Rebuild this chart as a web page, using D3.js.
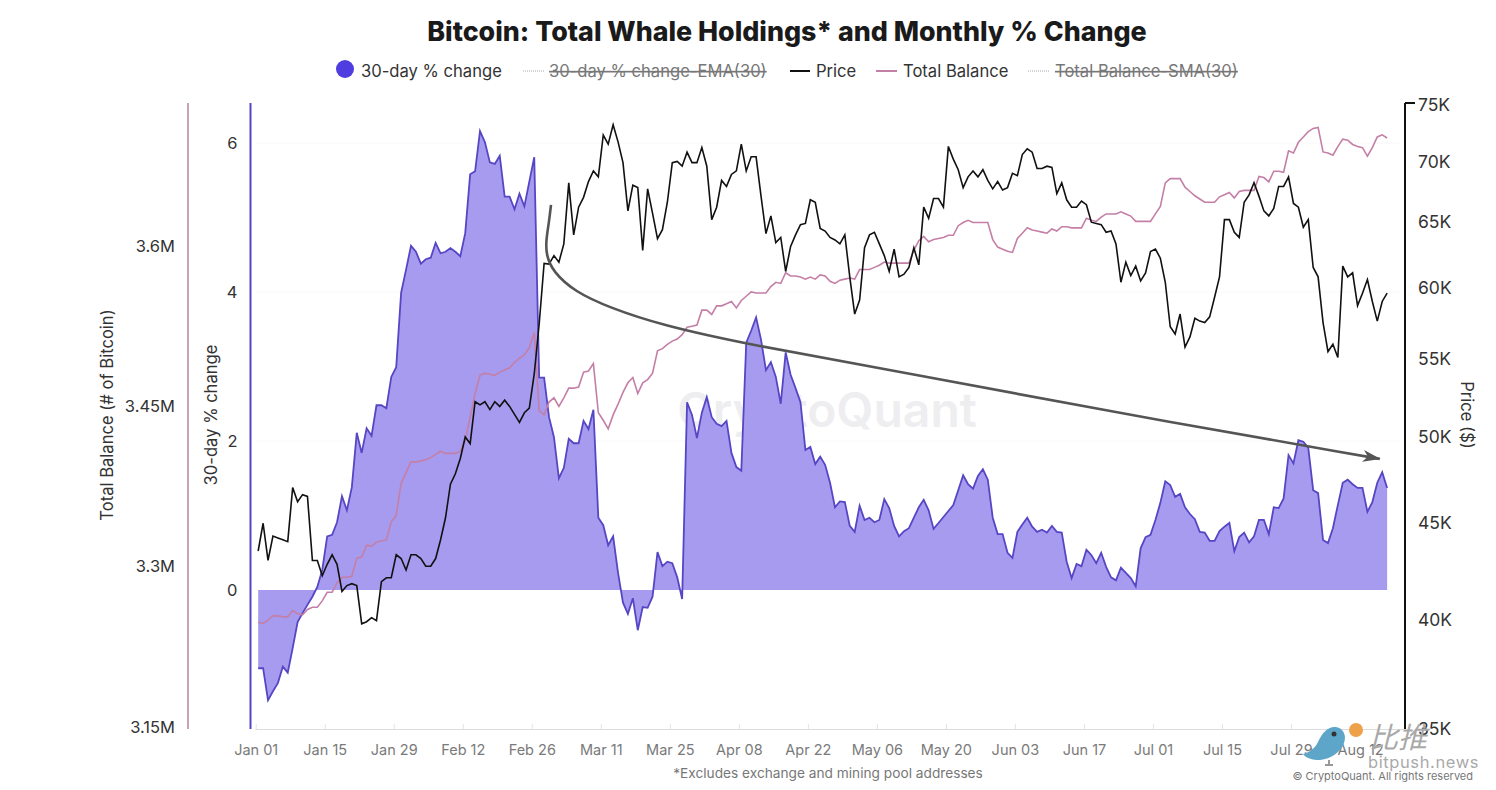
<!DOCTYPE html>
<html>
<head>
<meta charset="utf-8">
<script src="https://cdn.jsdelivr.net/npm/d3@7"></script>
<style>
  html, body { margin: 0; background: #fff; }
  text { font-family: Inter, "Noto Sans", sans-serif; }
  .strike { text-decoration: line-through; }
</style>
</head>
<body>
<div id="chart"></div>
<script>
// daily values, one per day starting Jan 01
const firstDay = new Date(Date.UTC(2024, 0, 1));

const pctChange = [
  -1.05,-1.05,-1.48,-1.36,-1.25,-1.03,-1.11,-0.78,-0.43,-0.31,-0.20,-0.09,0.04,0.27,0.72,0.74,0.91,1.26,1.07,1.38,
  2.11,1.84,2.17,2.07,2.48,2.48,2.44,2.86,2.99,3.99,4.30,4.62,4.54,4.38,4.44,4.46,4.66,4.52,4.54,4.59,
  4.54,4.48,4.79,5.58,5.62,6.16,6.01,5.74,5.72,5.83,5.28,5.28,5.11,5.32,5.15,5.48,5.81,2.85,2.85,2.32,
  2.05,1.50,1.64,2.03,1.97,1.97,2.27,2.16,2.42,0.97,0.87,0.60,0.72,0.23,-0.17,-0.32,-0.11,-0.54,-0.23,-0.24,
  -0.09,0.51,0.32,0.38,0.36,0.17,-0.12,2.52,2.35,2.04,2.38,2.59,2.32,2.23,2.20,2.27,1.84,1.65,1.60,3.32,
  3.48,3.66,3.36,2.95,3.06,2.86,2.50,3.19,2.89,2.71,2.52,1.88,1.92,1.69,1.79,1.68,1.44,1.11,1.19,1.18,
  0.86,0.78,1.13,0.94,0.97,0.91,0.94,1.22,1.10,0.86,0.72,0.79,0.83,0.97,1.11,1.21,1.07,0.82,0.90,0.98,
  1.06,1.14,1.34,1.54,1.42,1.36,1.53,1.62,1.48,0.97,0.75,0.75,0.50,0.43,0.78,0.88,0.97,0.85,0.78,0.81,
  0.77,0.86,0.78,0.77,0.38,0.16,0.35,0.32,0.54,0.47,0.36,0.50,0.31,0.17,0.13,0.30,0.23,0.16,0.05,0.56,
  0.71,0.74,0.94,1.17,1.46,1.41,1.25,1.29,1.11,1.02,0.95,0.78,0.77,0.66,0.66,0.79,0.85,0.90,0.52,0.71,
  0.77,0.64,0.72,0.94,0.94,0.75,1.11,1.10,1.23,1.81,1.70,2.01,1.99,1.91,1.34,1.30,0.67,0.63,0.83,1.14,
  1.44,1.48,1.42,1.37,1.37,1.05,1.18,1.44,1.58,1.37
];

const price = [
  43500,45000,43000,44300,44200,44100,44000,47000,46200,46600,46500,43000,43000,42200,42800,43300,42800,41400,41700,41800,
  41700,39800,39900,40100,39950,41900,42100,42100,43300,43100,42500,43300,43300,43100,42700,42700,43100,44100,45300,47200,
  47800,48700,50000,49600,52200,52000,52200,51700,52200,51900,52300,51900,51400,50900,51500,51800,54000,57400,61800,61750,
  62400,61900,63300,68200,64000,66200,67000,68300,69200,68700,72300,71500,73200,71700,69900,65900,68000,67800,62800,67700,
  65700,63700,64400,66600,69900,70000,69600,70800,69900,69900,71200,69600,65200,66200,68400,67900,68900,69200,71500,69200,
  70400,70400,67100,64100,65500,63400,63800,61200,63100,64000,64800,64900,66800,66600,64500,64300,63800,63600,63300,64000,
  60800,58100,59100,63000,64000,64200,63300,62400,61200,62900,60800,61000,61500,63000,61700,66200,65300,66900,66900,66200,
  71300,70200,69300,67800,68700,69200,68700,69300,68400,67700,68300,67600,67800,69000,68800,70600,71100,70800,69400,69400,
  69600,69500,67300,68200,66800,66200,66200,66700,66400,65000,64900,64800,64200,64300,63300,60400,61900,60900,61600,60500,
  61100,62700,62900,62200,60400,57200,56700,58100,55800,56500,57800,57600,57500,57900,59300,60800,65200,65200,64200,63800,
  66600,67200,68200,67100,65900,65500,66100,67900,67900,68700,66500,66200,64600,65200,61500,60800,57500,55500,56000,55100,
  61600,60800,61100,58700,59600,60600,59000,57600,59000,59600
];

// total balance in millions of BTC
const totalBalance = [
  3.248,3.247,3.250,3.254,3.254,3.253,3.253,3.259,3.256,3.255,3.260,3.262,3.262,3.268,3.276,3.276,3.285,3.290,3.290,3.291,
  3.308,3.309,3.320,3.319,3.323,3.324,3.325,3.342,3.348,3.378,3.388,3.398,3.398,3.399,3.400,3.402,3.405,3.408,3.406,3.406,
  3.406,3.408,3.418,3.440,3.462,3.479,3.481,3.480,3.479,3.482,3.484,3.486,3.491,3.495,3.498,3.505,3.519,3.446,3.442,3.454,
  3.458,3.450,3.458,3.467,3.467,3.468,3.482,3.483,3.490,3.444,3.437,3.429,3.442,3.452,3.463,3.472,3.477,3.462,3.472,3.475,
  3.481,3.502,3.504,3.508,3.511,3.513,3.517,3.524,3.525,3.526,3.540,3.540,3.536,3.544,3.544,3.546,3.548,3.542,3.549,3.553,
  3.557,3.556,3.556,3.556,3.562,3.566,3.565,3.575,3.572,3.572,3.571,3.569,3.571,3.569,3.573,3.572,3.567,3.565,3.568,3.569,
  3.570,3.569,3.578,3.578,3.578,3.580,3.582,3.585,3.584,3.584,3.584,3.584,3.584,3.596,3.605,3.609,3.604,3.606,3.607,3.608,
  3.610,3.610,3.619,3.622,3.624,3.622,3.622,3.622,3.622,3.606,3.599,3.597,3.595,3.594,3.607,3.612,3.617,3.615,3.614,3.613,
  3.612,3.616,3.614,3.618,3.618,3.617,3.617,3.617,3.626,3.624,3.623,3.627,3.630,3.630,3.630,3.632,3.630,3.628,3.623,3.623,
  3.623,3.623,3.630,3.637,3.659,3.663,3.663,3.663,3.655,3.651,3.647,3.644,3.641,3.641,3.641,3.646,3.648,3.650,3.645,3.651,
  3.652,3.652,3.652,3.665,3.664,3.660,3.670,3.670,3.669,3.689,3.687,3.697,3.702,3.707,3.710,3.711,3.688,3.687,3.685,3.693,
  3.700,3.699,3.695,3.693,3.692,3.684,3.692,3.702,3.704,3.701
];

const dayTicks = ["Jan 01","Jan 15","Jan 29","Feb 12","Feb 26","Mar 11","Mar 25","Apr 08","Apr 22","May 06","May 20",
  "Jun 03","Jun 17","Jul 01","Jul 15","Jul 29","Aug 12"];
const pctTicks = [0, 2, 4, 6];
const balanceTicks = [3.15, 3.3, 3.45, 3.6];
const priceTicks = [35000, 40000, 45000, 50000, 55000, 60000, 65000, 70000, 75000];

// hand drawn arrow on the original, as [day, % change]
const trendArrow = [
  [59.4,5.17],[59.0,4.94],[58.4,4.70],[58.4,4.50],[59.8,4.27],[64.3,4.00],[71.3,3.79],
  [81.5,3.56],[99.7,3.29],[130.2,2.93],[170.7,2.42],[227.5,1.76]
];

const width = 1496, height = 790;
const top_ = 103, bottom = 729;

const svg = d3.select("#chart").append("svg")
  .attr("width", width)
  .attr("height", height)
  .style("display", "block");

// each value sits in the middle of its day
const x = d3.scaleUtc()
  .domain([firstDay, d3.utcDay.offset(firstDay, 230)])
  .range([255.7, 1389.6]);
const xDay = d => x(new Date(+firstDay + (d + 0.5) * 864e5));

const yPct = d3.scaleLinear().domain([0, 6]).range([590, 143]);
const yBalance = d3.scaleLinear().domain([3.15, 3.6]).range([727, 246]);
const yPrice = d3.scaleLog().domain([35000, 75000]).range([bottom, 105]);

const purple = "#5546c4", pink = "#c47fa6";

// watermark goes under the marks
svg.append("text")
  .attr("x", 827).attr("y", 427)
  .attr("text-anchor", "middle")
  .attr("font-size", 48).attr("font-weight", 600)
  .attr("fill", "#eeeef0")
  .text("CryptoQuant");

// faint gridlines
svg.append("g")
  .selectAll("line")
  .data(pctTicks.slice(1))
  .join("line")
    .attr("x1", 256).attr("x2", 1400)
    .attr("y1", d => yPct(d)).attr("y2", d => yPct(d))
    .attr("stroke", "#f8f8f8");

// area for the % change
const area = d3.area()
  .x((d, i) => xDay(i))
  .y0(yPct(0))
  .y1(d => yPct(d));
const pctLine = d3.line().x((d, i) => xDay(i)).y(d => yPct(d));

svg.append("path")
  .datum(pctChange)
  .attr("d", area)
  .attr("fill", "#a79bf0");
svg.append("path")
  .datum(pctChange)
  .attr("d", pctLine)
  .attr("fill", "none")
  .attr("stroke", purple)
  .attr("stroke-width", 1.8);

// balance and price lines
svg.append("path")
  .datum(totalBalance)
  .attr("d", d3.line().x((d, i) => xDay(i)).y(d => yBalance(d)))
  .attr("fill", "none")
  .attr("stroke", pink)
  .attr("stroke-width", 1.6);
svg.append("path")
  .datum(price)
  .attr("d", d3.line().x((d, i) => xDay(i)).y(d => yPrice(d)))
  .attr("fill", "none")
  .attr("stroke", "#111")
  .attr("stroke-width", 1.6);

// arrow annotation
svg.append("defs").append("marker")
    .attr("id", "head")
    .attr("viewBox", "0 0 18 12")
    .attr("refX", 17).attr("refY", 6)
    .attr("markerWidth", 18).attr("markerHeight", 12)
    .attr("markerUnits", "userSpaceOnUse")
    .attr("orient", "auto")
  .append("path")
    .attr("d", "M0,0 L18,6 L0,12 L5,6 Z")
    .attr("fill", "#555");
svg.append("path")
  .datum(trendArrow)
  .attr("d", d3.line().x(d => xDay(d[0])).y(d => yPct(d[1])).curve(d3.curveBasis))
  .attr("fill", "none")
  .attr("stroke", "#555")
  .attr("stroke-width", 2.6)
  .attr("marker-end", "url(#head)");

// axes
const tickDate = d3.utcParse("%b %d %Y");
const xAxis = d3.axisBottom(x)
  .tickValues(dayTicks.map(d => tickDate(d + " 2024")))
  .tickFormat(d3.utcFormat("%b %d"))
  .tickSize(-5)
  .tickPadding(16);
const gx = svg.append("g").attr("transform", `translate(0,${bottom})`).call(xAxis);
gx.select(".domain").attr("stroke", "#dcdcdc").attr("d", "M255.5,0.5H1404");
gx.selectAll(".tick line").attr("stroke", "#e4e4e4");
gx.selectAll(".tick text").attr("fill", "#7a7a7a").attr("font-size", 14.5).attr("font-family", null);

const styleY = function(g, color, size) {
  g.select(".domain").attr("d", `M0,${top_}V${bottom}`).attr("stroke", color).attr("stroke-width", 2);
  g.selectAll(".tick line").remove();
  g.selectAll(".tick text").attr("fill", "#333").attr("font-size", size).attr("font-family", null);
};

const gPct = svg.append("g").attr("transform", "translate(250.5,0)")
  .call(d3.axisLeft(yPct).tickValues(pctTicks).tickSize(0).tickPadding(13).tickFormat(d3.format("d")));
const gBal = svg.append("g").attr("transform", "translate(188,0)")
  .call(d3.axisLeft(yBalance).tickValues(balanceTicks).tickSize(0).tickPadding(13)
    .tickFormat(d => d + "M"));
const gPrice = svg.append("g").attr("transform", "translate(1405,0)")
  .call(d3.axisRight(yPrice).tickValues(priceTicks).tickSize(0).tickPadding(13)
    .tickFormat(d => d / 1000 + "K"));
styleY(gPct, purple, 16.5);
styleY(gBal, "#cda2b6", 16.5);
styleY(gPrice, "#111", 17.5);
gPrice.append("line").attr("x1", 0).attr("x2", 10).attr("y1", top_).attr("y2", top_).attr("stroke", "#111").attr("stroke-width", 2);

const axisTitle = (tx, ty, rot, label) => svg.append("text")
  .attr("transform", `translate(${tx},${ty}) rotate(${rot})`)
  .attr("text-anchor", "middle")
  .attr("font-size", 16.6)
  .attr("fill", "#333")
  .text(label);
axisTitle(113, 415, -90, "Total Balance (# of Bitcoin)");
axisTitle(217, 415, -90, "30-day % change");
axisTitle(1461, 415, 90, "Price ($)");

// title
svg.append("text")
  .attr("x", 787).attr("y", 41)
  .attr("text-anchor", "middle")
  .attr("font-size", 26.8).attr("font-weight", 800)
  .attr("fill", "#1a1a1a")
  .text("Bitcoin: Total Whale Holdings* and Monthly % Change");

// legend
const legend = svg.append("g").attr("font-size", 16.6);
legend.append("circle").attr("cx", 345).attr("cy", 69).attr("r", 9).attr("fill", "#4f3de0");
const legendText = (tx, label, strike) => legend.append("text")
  .attr("x", tx).attr("y", 77)
  .attr("fill", strike ? "#777" : "#333")
  .attr("class", strike ? "strike" : null)
  .text(label);
const legendLine = (x1, x2, color, dash) => legend.append("line")
  .attr("x1", x1).attr("x2", x2).attr("y1", 71).attr("y2", 71)
  .attr("stroke", color)
  .attr("stroke-width", dash ? 1 : 2)
  .attr("stroke-dasharray", dash ? "1 1" : null);
legendText(361, "30-day % change");
legendLine(523, 544, "#aaa", true);
legendText(549, "30-day % change-EMA(30)", true);
legendLine(790, 810, "#111");
legendText(816, "Price");
legendLine(876, 897, pink);
legendText(903, "Total Balance");
legendLine(1028, 1050, "#aaa", true);
legendText(1055, "Total Balance-SMA(30)", true);

// footnotes
svg.append("text")
  .attr("x", 828).attr("y", 778)
  .attr("text-anchor", "middle")
  .attr("font-size", 13.7)
  .attr("fill", "#777")
  .text("*Excludes exchange and mining pool addresses");
svg.append("text")
  .attr("x", 1473).attr("y", 780)
  .attr("text-anchor", "end")
  .attr("font-size", 11)
  .attr("fill", "#777")
  .text("© CryptoQuant. All rights reserved");

// bitpush watermark
const bird = svg.append("g");
bird.append("path")
  .attr("d", "M1303,754 C1310,752 1315,748 1318,742 C1322,733 1328,726 1336,727 C1343,728 1347,735 1344,743 C1341,752 1331,759 1320,760 C1312,760 1306,758 1303,754 Z")
  .attr("fill", "#5ea6c9");
bird.append("circle").attr("cx", 1334).attr("cy", 734).attr("r", 2.5).attr("fill", "#333");
bird.append("path")
  .attr("d", "M1329,760 V764 M1325,765 L1333,765")
  .attr("stroke", "#333").attr("fill", "none");
bird.append("circle").attr("cx", 1356).attr("cy", 730).attr("r", 7).attr("fill", "#eda24a");
svg.append("text")
  .attr("x", 1369).attr("y", 748)
  .attr("font-size", 29).attr("font-style", "italic")
  .attr("fill", "#a9a9a9")
  .style("font-family", '"Noto Sans CJK SC"')
  .text("比推");
svg.append("text")
  .attr("x", 1368).attr("y", 768)
  .attr("font-size", 16.5)
  .attr("fill", "#aaa")
  .style("letter-spacing", "0.6px")
  .text("bitpush.news");
</script>
</body>
</html>
